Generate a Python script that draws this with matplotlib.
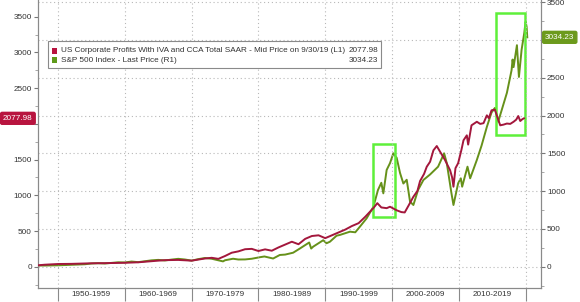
import matplotlib
matplotlib.use("Agg")
import matplotlib.pyplot as plt
from matplotlib.patches import Rectangle, FancyBboxPatch
from matplotlib.ticker import MultipleLocator, FixedLocator, NullFormatter, FixedFormatter, FuncFormatter
import matplotlib.transforms as mtransforms

# ---------------- data ----------------
profit_years = [1947.0, 1948, 1950, 1952, 1955, 1957, 1960, 1962, 1965, 1966, 1968, 1970, 1971,
                1972, 1973, 1974, 1975, 1976, 1977, 1978, 1979, 1980, 1981, 1982, 1983, 1984,
                1985, 1986, 1987, 1988, 1989, 1990, 1991, 1992, 1993, 1994, 1995, 1996,
                1997.2, 1997.8, 1998.4, 1999.2, 1999.7, 2000.7, 2001.4, 2001.9, 2002.5,
                2003.2, 2003.8, 2004.2, 2004.8, 2005.2, 2005.7, 2006.2, 2006.7, 2007.2,
                2007.9, 2008.7, 2009.0, 2009.2, 2009.5, 2009.9, 2010.4, 2010.7, 2011.2,
                2011.4, 2011.9, 2012.7, 2013.2, 2013.7, 2014.2, 2014.5, 2014.9, 2015.4,
                2015.9, 2016.2, 2016.7, 2017.2, 2017.7, 2018.2, 2018.6, 2018.9, 2019.2,
                2019.5, 2019.75]
profit_values = [20, 28, 38, 40, 48, 50, 55, 62, 85, 92, 95, 85, 100,
                 115, 125, 110, 150, 196, 215, 245, 250, 220, 243, 224, 270, 310,
                 350, 315, 390, 430, 440, 400, 440, 480, 520, 570, 610, 700,
                 820, 890, 830, 820, 840, 790, 765, 760, 860,
                 980, 1060, 1200, 1300, 1400, 1470, 1630, 1690, 1610,
                 1500, 1350, 1250, 1120, 1380, 1450, 1640, 1770, 1840,
                 1710, 1980, 2030, 2000, 2010, 2120, 2080, 2190, 2200,
                 2060, 1980, 1990, 2005, 2000, 2030, 2060, 2110, 2040,
                 2065, 2077.98]

spx_years = [1947.0, 1948, 1950, 1952, 1954, 1955, 1956, 1957, 1958, 1959, 1960, 1961, 1962,
             1963, 1964, 1965, 1966, 1967, 1968, 1969, 1970, 1971, 1972, 1973, 1974.7, 1975,
             1976.2, 1977, 1978, 1979, 1980.2, 1980.9, 1982.2, 1983.2, 1984, 1985.2, 1986.2,
             1987.6, 1987.9, 1988.2, 1989.7, 1990.2, 1990.7, 1991.7, 1992.2, 1993.7, 1994.5,
             1995.2, 1996.2, 1997.2, 1997.9, 1998.4, 1998.7, 1999.2, 1999.7, 2000.2, 2000.7,
             2001.2, 2001.7, 2002.2, 2002.7, 2003.2, 2003.9, 2004.7, 2005.7, 2006.9, 2007.8,
             2008.2, 2008.9, 2009.2, 2009.9, 2010.3, 2010.5, 2011.3, 2011.7, 2012.7, 2013.4,
             2014.2, 2014.9, 2015.4, 2015.9, 2016.2, 2017.2, 2017.9, 2018.05, 2018.2, 2018.7,
             2019.0, 2019.4, 2019.8, 2020.0, 2020.15, 2020.25]
spx_values = [15, 15, 18, 25, 32, 42, 46, 42, 50, 58, 56, 68, 60,
              72, 84, 90, 82, 94, 104, 95, 80, 100, 115, 105, 70, 85,
              105, 95, 96, 105, 125, 135, 108, 155, 160, 185, 240,
              320, 240, 265, 350, 310, 330, 410, 420, 463, 455,
              530, 640, 790, 1015, 1110, 970, 1280, 1370, 1500, 1440,
              1240, 1100, 1150, 860, 816, 1015, 1147, 1220, 1323, 1500,
              1370, 971, 816, 1103, 1169, 1058, 1323, 1169, 1412, 1600,
              1850, 2040, 2100, 1918, 2007, 2300, 2600, 2740, 2640, 2930,
              2510, 2870, 3092, 3241, 3175, 3034.23]

decade_labels = ["1950-1959", "1960-1969", "1970-1979", "1980-1989",
                 "1990-1999", "2000-2009", "2010-2019"]
legend_profit = "US Corporate Profits With IVA and CCA Total SAAR - Mid Price on 9/30/19 (L1)"
legend_spx = "S&P 500 Index - Last Price (R1)"
last_profit = "2077.98"
last_spx = "3034.23"

# ---------------- style ----------------
RED = "#a3173c"
GREEN = "#66911a"
HL = "#5ef03a"
GRID = "#b8b8b8"
TXT = "#333333"
FONT = "Liberation Sans"
FS = 5.9
plt.rcParams['font.family'] = [FONT, 'DejaVu Sans']

W, H = 580, 302
fig = plt.figure(figsize=(W / 100, H / 100), dpi=100)
fig.patch.set_facecolor("white")

def fx(px):
    return px / W

def fy(py):
    return 1 - py / H

ax = fig.add_axes([fx(38), fy(288), fx(540.7) - fx(38), fy(0) - fy(288)])
ax2 = ax.twinx()

ax.set_xlim(1947.0, 2022.26)
ax.set_ylim(-298, 3735)
ax2.set_ylim(-282, 3528)

ax2.plot(spx_years, spx_values, color=GREEN, lw=1.4, zorder=3)
ax.plot(profit_years, profit_values, color=RED, lw=1.4, zorder=3)
ax.set_zorder(ax2.get_zorder() + 1)
ax.patch.set_visible(False)

# grid
for yv in range(0, 3501, 500):
    ax2.axhline(yv, color=GRID, lw=0.8, ls=(0, (1, 2.5)), zorder=1)
for xv in range(1950, 2021, 10):
    ax.axvline(xv, color=GRID, lw=0.8, ls=(0, (1, 2.5)), zorder=1)

# spines
for a in (ax, ax2):
    a.spines['top'].set_visible(False)
    for s in ('left', 'right', 'bottom'):
        a.spines[s].set_color("#8a8a8a")
        a.spines[s].set_linewidth(0.8)

# y ticks (labels hidden where the last-value tags sit)
ax.yaxis.set_major_formatter(FuncFormatter(lambda v, p: "" if v == 2000 else f"{v:.0f}"))
ax2.yaxis.set_major_formatter(FuncFormatter(lambda v, p: "" if v == 3000 else f"{v:.0f}"))
for a in (ax, ax2):
    a.yaxis.set_major_locator(MultipleLocator(500))
    a.yaxis.set_minor_locator(MultipleLocator(250))
    a.tick_params(axis='y', which='major', labelsize=FS, colors="#777777",
                  labelcolor=TXT, length=3, width=0.8, pad=1.5)
    a.tick_params(axis='y', which='minor', length=2, width=0.6, colors="#999999")

# x ticks
ax.xaxis.set_major_locator(FixedLocator(list(range(1950, 2021, 10))))
ax.xaxis.set_major_formatter(NullFormatter())
ax.xaxis.set_minor_locator(FixedLocator([1955 + 10 * i for i in range(len(decade_labels))]))
ax.xaxis.set_minor_formatter(FixedFormatter(decade_labels))
ax.tick_params(axis='x', which='major', length=9, width=0.8, colors="#8a8a8a")
ax.tick_params(axis='x', which='minor', length=0, labelsize=FS, labelcolor=TXT, pad=2.5)
ax2.tick_params(axis='x', which='both', length=0)

# highlight rectangles (on S&P axis)
ax2.add_patch(Rectangle((1997.1, 661), 3.3, 962, fill=False, ec=HL, lw=1.8, zorder=5))
ax2.add_patch(Rectangle((2015.6, 1742), 4.25, 1610, fill=False, ec=HL, lw=1.8, zorder=5))

# value tags
trl = mtransforms.blended_transform_factory(fig.transFigure, ax.transData)
ax.text(fx(3), 2077.98, last_profit, transform=trl, ha='left', va='center',
        fontsize=FS, color='white', zorder=10, clip_on=False,
        bbox=dict(boxstyle="round,pad=0.3,rounding_size=0.2", fc="#b8143f", ec="#b8143f"))
trr = mtransforms.blended_transform_factory(fig.transFigure, ax2.transData)
ax2.text(fx(545), 3034.23, last_spx, transform=trr, ha='left', va='center',
         fontsize=FS, color='white', zorder=10, clip_on=False,
         bbox=dict(boxstyle="round,pad=0.3,rounding_size=0.2", fc="#6c9a1c", ec="#6c9a1c"))

# legend box (manual)
box = FancyBboxPatch((fx(47.7), fy(68.3)), fx(380.7) - fx(47.7), fy(40.7) - fy(68.3),
                     boxstyle="square,pad=0", transform=fig.transFigure,
                     fc="white", ec="#8a8a8a", lw=0.8, zorder=20)
fig.patches.append(box)
fig.patches.append(Rectangle((fx(51.7), fy(53.5)), fx(5.2), fy(0) - fy(5.2),
                             transform=fig.transFigure, fc="#b8143f", ec="none", zorder=21))
fig.patches.append(Rectangle((fx(51.7), fy(62.5)), fx(5.2), fy(0) - fy(5.2),
                             transform=fig.transFigure, fc="#5e9a1a", ec="none", zorder=21))
fig.text(fx(61), fy(50.8), legend_profit, fontsize=FS, color=TXT, va='center', ha='left', zorder=22)
fig.text(fx(61), fy(60.2), legend_spx, fontsize=FS, color=TXT, va='center', ha='left', zorder=22)
fig.text(fx(378.5), fy(50.8), last_profit, fontsize=FS, color=TXT, va='center', ha='right', zorder=22)
fig.text(fx(378.5), fy(60.2), last_spx, fontsize=FS, color=TXT, va='center', ha='right', zorder=22)

fig.savefig("out.png", dpi=100, facecolor="white")
